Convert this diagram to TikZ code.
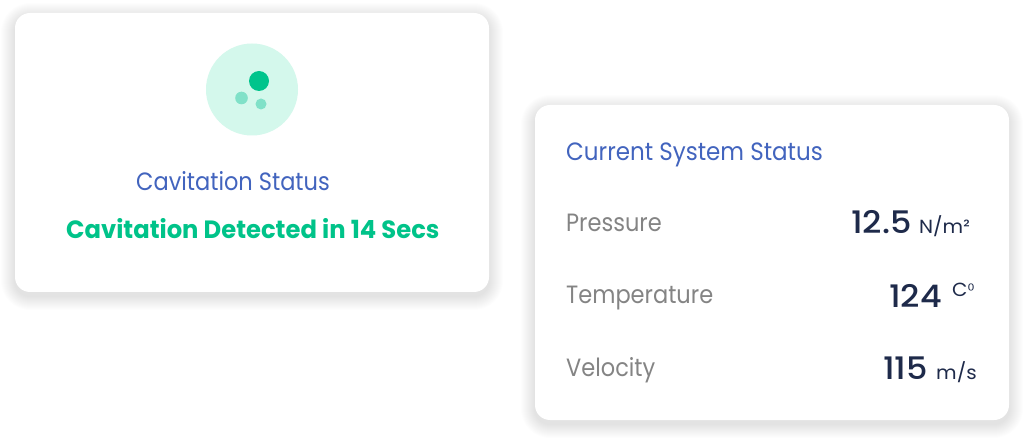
\documentclass[tikz,border=0pt]{standalone}
\usepackage{fontspec}
\setmainfont{Poppins}
\newfontfamily\txt[FakeStretch=0.9]{Poppins}
\newfontfamily\txtt[FakeStretch=0.92]{Poppins}
\newfontfamily\txtg[FakeStretch=0.97]{Poppins}
\newfontfamily\txtn[FakeStretch=1.08]{Poppins Medium}
\newfontfamily\txtu[FakeStretch=1.05]{Poppins}
\newfontfamily\symf{DejaVu Sans}
\usetikzlibrary{shadows.blur}
\definecolor{titleblue}{RGB}{66,100,190}
\definecolor{detgreen}{RGB}{0,195,137}
\definecolor{ringmint}{RGB}{212,248,236}
\definecolor{dotgreen}{RGB}{0,196,140}
\definecolor{dotlight}{RGB}{128,225,200}
\definecolor{labgray}{RGB}{132,132,132}
\definecolor{numnavy}{RGB}{30,42,74}
\newcommand\mycardshadow[4]{%
  \foreach \i in {1,...,14}{%
    \fill[black, opacity=0.007, rounded corners={(15+\i)*1pt}]
      (#1-\i,#2-\i+4) rectangle (#3+\i,#4+\i+4);}%
}
\tikzset{
  card/.style={fill=white, rounded corners=15pt},
  title/.style={anchor=base west, inner sep=0pt, text=titleblue, font=\txtt\fontsize{25}{30}\selectfont},
  label/.style={anchor=base west, inner sep=0pt, text=labgray, font=\txt\fontsize{25}{30}\selectfont},
  num/.style={anchor=base west, inner sep=0pt, text=numnavy, font=\txtn\fontsize{31}{36}\selectfont},
  unit/.style={anchor=base west, inner sep=0pt, text=numnavy, font=\txtu\fontsize{19}{22}\selectfont},
}
\begin{document}
\begin{tikzpicture}[x=1pt,y=-1pt]
\useasboundingbox[fill=white] (0,0) rectangle (1024,443);
% left card
\mycardshadow{15}{13}{489}{292}
\path[card] (15,13) rectangle (489,292);
\fill[ringmint] (252,89.5) circle (46);
\fill[dotgreen] (259,81) circle (10);
\fill[dotlight] (241.5,98) circle (6.3);
\fill[dotlight] (261,104) circle (5.5);
\node[anchor=base west, inner sep=0pt, text=titleblue, font=\txt\fontsize{25}{30}\selectfont] (cavtitle) at (136,191) {Cavitation Status};
\node[anchor=base west, inner sep=0pt, text=detgreen, font=\txtg\bfseries\fontsize{25}{30}\selectfont] (cavdet) at (66,239) {Cavitation Detected in 14 Secs};
% right card
\mycardshadow{535}{105}{1009}{420}
\path[card] (535,105) rectangle (1009,420);
\node[title] (systitle) at (566,161) {Current System Status};
\node[label] (press) at (566,232) {Pressure};
\node[num] (pressv) at (851,234) {12.5};
\node[unit] (pressu) at (919,234) {N/m²};
\node[label] (temp) at (566,303) {Temperature};
\node[num] (tempv) at (889,307) {124};
\node[unit] (tempu) at (952,297) {C{\symf\fontsize{17}{20}\selectfont ⁰}};
\node[label] (vel) at (566,376) {Velocity};
\node[num] (velv) at (883,379) {115};
\node[unit] (velu) at (936,379) {m/s};
\end{tikzpicture}
\end{document}
